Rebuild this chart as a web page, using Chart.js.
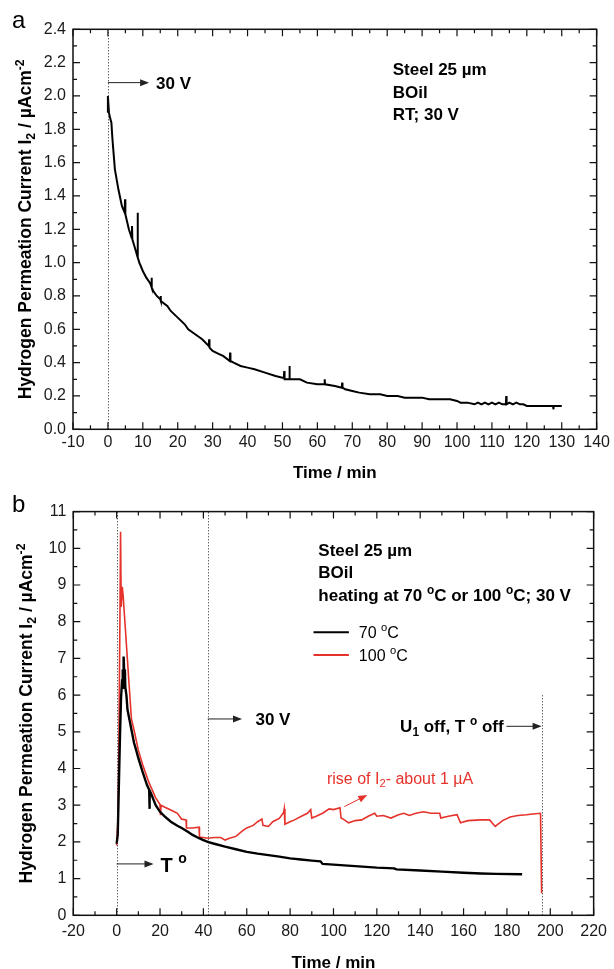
<!DOCTYPE html>
<html>
<head>
<meta charset="utf-8">
<script src="https://cdn.jsdelivr.net/npm/chart.js@4.4.1/dist/chart.umd.min.js"></script>
<style>
  html, body { margin: 0; padding: 0; background: #fff; }
  #wrap { position: relative; width: 614px; height: 969px; }
  canvas { position: absolute; left: 0; }
  #cA { top: 0; }
  #cB { top: 480px; }
</style>
</head>
<body>
<div id="wrap">
  <canvas id="cA" width="614" height="480"></canvas>
  <canvas id="cB" width="614" height="489"></canvas>
</div>
<script>
// panel a: time (min), current (uA/cm2), room temperature
const currentRT = [
  [0,1.9],[0,2.0],[0.3,1.9],[0.6,1.87],[1,1.84],[1.3,1.74],[2,1.56],[3,1.44],[4,1.34],[4.8,1.3],[4.9,1.38],[5.0,1.29],
  [6,1.2],[6.8,1.15],[6.9,1.22],[7.0,1.14],[8,1.07],[8.4,1.04],[8.5,1.3],[8.6,1.03],[9,1.0],[10,0.95],[11,0.91],
  [12,0.88],[12.4,0.86],[12.5,0.91],[12.6,0.85],[13,0.83],[14,0.8],[15,0.78],[15.1,0.8],[15.2,0.77],[17,0.74],
  [18,0.71],[20,0.67],[22,0.63],[23,0.6],[25,0.57],[27,0.54],[28.9,0.5],[29,0.54],[29.1,0.49],[30,0.47],[32,0.45],
  [33,0.44],[34.9,0.41],[35,0.46],[35.1,0.41],[36,0.4],[38,0.38],[40,0.37],[42,0.36],[45,0.34],[48,0.32],[50,0.31],
  [50.4,0.31],[50.5,0.35],[50.6,0.3],[51.9,0.3],[52,0.38],[52.1,0.3],[53,0.3],[55,0.3],[57,0.28],[60,0.27],[62,0.27],
  [62.1,0.3],[62.2,0.27],[65,0.26],[67,0.25],[67.1,0.28],[67.2,0.25],[68,0.24],[70,0.23],[72,0.22],[75,0.21],[78,0.21],
  [80,0.2],[83,0.2],[85,0.19],[88,0.19],[90,0.19],[92,0.18],[95,0.18],[98,0.18],[100,0.17],[101,0.16],[103,0.16],
  [105,0.15],[106,0.16],[107,0.15],[108,0.16],[109,0.15],[110,0.16],[111,0.15],[112,0.16],[113,0.15],[114,0.15],
  [114.1,0.2],[114.2,0.15],[115,0.16],[116,0.15],[117,0.16],[118,0.15],[119,0.15],[120,0.14],[125,0.14],[127.5,0.14],
  [127.6,0.12],[127.7,0.14],[130,0.14]
];

// panel b: heating at 70 C and 100 C
const current70 = [
  [0,1.95],[0.5,2.2],[1,3.5],[1.5,4.8],[2,5.9],[2.5,6.4],[2.8,6.7],[3,6.2],[3.2,7.05],[3.5,6.6],[3.8,6.7],
  [4,6.2],[4.5,6.0],[5,5.6],[6,5.3],[7,5.0],[8,4.7],[9,4.5],[10,4.28],[12,3.9],[14,3.55],[15,3.42],[15.1,2.9],
  [15.3,3.4],[16,3.3],[18,3.0],[20,2.82],[22,2.7],[25,2.55],[28,2.44],[30,2.38],[33,2.27],[35,2.19],[38,2.1],
  [40,2.05],[42,2.0],[45,1.95],[50,1.87],[55,1.8],[60,1.73],[65,1.68],[70,1.64],[75,1.6],[80,1.55],[85,1.52],
  [90,1.49],[94,1.47],[95,1.4],[100,1.38],[110,1.34],[120,1.3],[128,1.28],[129,1.25],[140,1.22],[150,1.19],
  [160,1.16],[168,1.14],[175,1.13],[187,1.12]
];
const current100 = [
  [0,1.9],[0.5,2.5],[1,4.5],[1.5,8.0],[1.8,10.45],[2.0,10.45],[2.1,8.4],[2.6,8.95],[3.0,8.7],[6.8,5.35],[8,5.05],
  [10,4.5],[12,4.1],[15,3.6],[18,3.2],[20,3.02],[20.2,2.73],[20.5,3.0],[22,2.95],[25,2.87],[28,2.78],[30,2.62],
  [32,2.6],[32.2,2.38],[35,2.38],[38,2.4],[38.2,2.13],[40,2.12],[42,2.1],[45,2.12],[48,2.12],[50,2.05],[52,2.1],
  [55,2.15],[58,2.3],[60,2.38],[63,2.45],[65,2.55],[67,2.62],[67.5,2.45],[70,2.42],[72,2.55],[75,2.64],[77,2.8],
  [77.3,2.9],[77.6,2.48],[80,2.55],[82,2.6],[85,2.69],[88,2.78],[89.5,2.88],[90,2.65],[92,2.7],[95,2.78],[98,2.9],
  [100,2.88],[103,2.93],[103.5,2.65],[105,2.6],[107,2.52],[110,2.58],[113,2.6],[116,2.7],[119,2.78],[120,2.7],
  [123,2.72],[126.5,2.65],[130,2.74],[132.5,2.78],[135,2.72],[138,2.78],[141.6,2.82],[145,2.78],[149,2.78],
  [149.5,2.65],[153,2.7],[157,2.74],[158.6,2.52],[162,2.58],[167.9,2.6],[172,2.6],[174.6,2.42],[178,2.58],
  [181.5,2.68],[185,2.72],[189,2.74],[192,2.76],[195.5,2.78],[196,0.6]
];

const seriesNames = ['70 \u00B0C', '100 \u00B0C'];
const xRangeA = [-10, 140, 10];
const yRangeA = [0, 2.4, 0.2];
const xRangeB = [-20, 220, 20];
const yRangeB = [0, 11, 1];

const FONT = "'Liberation Sans', Arial, Helvetica, sans-serif";
const RED = '#e5322b';

function drawRich(ctx, runs, x, y, size, weight, color, align) {
  const parts = runs.map(r => typeof r === 'string' ? { t: r, k: '' } : { t: r[0], k: r[1] });
  let w = 0;
  parts.forEach(p => {
    p.s = p.k ? size * 0.7 : size;
    ctx.font = `${weight} ${p.s}px ${FONT}`;
    p.w = ctx.measureText(p.t).width;
    w += p.w;
  });
  let cx = align === 'center' ? x - w / 2 : align === 'right' ? x - w : x;
  ctx.fillStyle = color;
  ctx.textAlign = 'left';
  ctx.textBaseline = 'alphabetic';
  parts.forEach(p => {
    ctx.font = `${weight} ${p.s}px ${FONT}`;
    const dy = p.k === 'sub' ? size * 0.22 : p.k === 'sup' ? -size * 0.42 : 0;
    ctx.fillText(p.t, cx, y + dy);
    cx += p.w;
  });
}

function arrow(ctx, x0, y0, x1, y1, color) {
  const a = Math.atan2(y1 - y0, x1 - x0), L = 9, H = 3.5;
  ctx.strokeStyle = color; ctx.fillStyle = color; ctx.lineWidth = 1;
  ctx.beginPath(); ctx.moveTo(x0, y0); ctx.lineTo(x1 - L * Math.cos(a) * 0.8, y1 - L * Math.sin(a) * 0.8); ctx.stroke();
  ctx.beginPath();
  ctx.moveTo(x1, y1);
  ctx.lineTo(x1 - L * Math.cos(a) + H * Math.sin(a), y1 - L * Math.sin(a) - H * Math.cos(a));
  ctx.lineTo(x1 - L * Math.cos(a) - H * Math.sin(a), y1 - L * Math.sin(a) + H * Math.cos(a));
  ctx.closePath(); ctx.fill();
}

const yTitle = ['Hydrogen Permeation Current I', ['2', 'sub'], ' / \u00B5Acm', ['-2', 'sup']];

function panelPlugin(cfg) {
  return {
    id: 'panel',
    afterDatasetsDraw(chart) {
      const { ctx, chartArea: ca, scales: { x, y } } = chart;
      ctx.save();
      // dotted event lines
      ctx.setLineDash([1, 2]); ctx.lineWidth = 1; ctx.strokeStyle = '#222';
      cfg.markers.forEach(m => {
        const px = Math.round(x.getPixelForValue(m[0])) + 0.5;
        ctx.beginPath(); ctx.moveTo(px, y.getPixelForValue(m[1])); ctx.lineTo(px, y.getPixelForValue(m[2])); ctx.stroke();
      });
      ctx.setLineDash([]);
      // frame with inward ticks on all sides
      ctx.strokeStyle = '#111'; ctx.lineWidth = 1.2;
      const xs = cfg.xr, ys = cfg.yr;
      for (let i = 0; i <= Math.round((xs[1] - xs[0]) / (xs[2] / 2)); i++) {
        const v = xs[0] + i * xs[2] / 2, L = i % 2 === 0 ? 7 : 4, px = x.getPixelForValue(v);
        ctx.beginPath(); ctx.moveTo(px, ca.bottom); ctx.lineTo(px, ca.bottom - L);
        ctx.moveTo(px, ca.top); ctx.lineTo(px, ca.top + L); ctx.stroke();
      }
      for (let i = 0; i <= Math.round((ys[1] - ys[0]) / (ys[2] / 2)); i++) {
        const v = ys[0] + i * ys[2] / 2, L = i % 2 === 0 ? 7 : 4, py = y.getPixelForValue(v);
        ctx.beginPath(); ctx.moveTo(ca.left, py); ctx.lineTo(ca.left + L, py);
        ctx.moveTo(ca.right, py); ctx.lineTo(ca.right - L, py); ctx.stroke();
      }
      ctx.lineWidth = 1.5;
      ctx.strokeRect(ca.left, ca.top, ca.right - ca.left, ca.bottom - ca.top);
      // arrows
      cfg.arrows.forEach(a => arrow(ctx, x.getPixelForValue(a[0]), y.getPixelForValue(a[1]),
        x.getPixelForValue(a[2]), y.getPixelForValue(a[3]), a[4] || '#222'));
      // annotation texts (y = text centre)
      cfg.texts.forEach(t => drawRich(ctx, t.runs, x.getPixelForValue(t.x), y.getPixelForValue(t.y) + t.size * 0.36,
        t.size, t.weight || 'bold', t.color || '#000', t.align || 'left'));
      // legend
      if (cfg.legend) {
        chart.data.datasets.forEach((ds, i) => {
          const lg = cfg.legend[i], py = y.getPixelForValue(lg.y);
          ctx.strokeStyle = ds.borderColor; ctx.lineWidth = 2;
          ctx.beginPath(); ctx.moveTo(x.getPixelForValue(lg.x0), py); ctx.lineTo(x.getPixelForValue(lg.x1), py); ctx.stroke();
          drawRich(ctx, lg.runs, x.getPixelForValue(lg.tx), py + 16 * 0.36, 16, 'normal', '#000', 'left');
        });
      }
      // axis titles
      drawRich(ctx, ['Time / min'], (ca.left + ca.right) / 2, cfg.xTitleY + 17 * 0.36, 17, 'bold', '#000', 'center');
      ctx.save();
      ctx.translate(cfg.yTitleX, (ca.top + ca.bottom) / 2);
      ctx.rotate(-Math.PI / 2);
      drawRich(ctx, yTitle, 0, 0, 17.5, 'bold', '#000', 'center');
      ctx.restore();
      // panel letter
      ctx.font = `24px ${FONT}`; ctx.fillStyle = '#000'; ctx.textAlign = 'left'; ctx.textBaseline = 'alphabetic';
      ctx.fillText(cfg.letter, 12, cfg.letterY);
      ctx.restore();
    }
  };
}

function makePanel(canvas, datasets, cfg) {
  return new Chart(canvas.getContext('2d'), {
    type: 'line',
    data: { datasets },
    options: {
      responsive: false,
      animation: false,
      devicePixelRatio: 1,
      layout: { padding: cfg.padding },
      plugins: { legend: { display: false }, tooltip: { enabled: false } },
      elements: { point: { radius: 0 }, line: { tension: 0 } },
      scales: {
        x: {
          type: 'linear', min: cfg.xr[0], max: cfg.xr[1],
          grid: { display: false, drawTicks: false }, border: { display: false },
          ticks: { stepSize: cfg.xr[2], padding: cfg.xPad, color: '#1a1a1a', font: { family: FONT, size: 16 },
                   maxRotation: 0, autoSkip: false, callback: v => String(v) },
          afterFit: s => { s.height = cfg.xHeight; }
        },
        y: {
          type: 'linear', min: cfg.yr[0], max: cfg.yr[1],
          grid: { display: false, drawTicks: false }, border: { display: false },
          ticks: { stepSize: cfg.yr[2], padding: 7, color: '#1a1a1a', font: { family: FONT, size: 16 },
                   autoSkip: false, callback: v => cfg.yDec ? Number(v).toFixed(cfg.yDec) : String(v) },
          afterFit: s => { s.width = cfg.yWidth; }
        }
      }
    },
    plugins: [panelPlugin(cfg)]
  });
}

makePanel(document.getElementById('cA'), [
  { label: 'RT', data: currentRT.map(p => ({ x: p[0], y: p[1] })), borderColor: '#000', borderWidth: 2 }
], {
  xr: xRangeA, yr: yRangeA, yDec: 1,
  padding: { top: 29.3, right: 17, left: 0, bottom: 0 },
  xHeight: 50.7, yWidth: 73, xPad: 4,
  markers: [[0, 0, 2.4]],
  arrows: [[0, 2.08, 11.8, 2.08]],
  texts: [
    { runs: ['30 V'], x: 13.8, y: 2.08, size: 17 },
    { runs: ['Steel 25 \u00B5m'], x: 81.6, y: 2.162, size: 17 },
    { runs: ['BOil'], x: 81.6, y: 2.024, size: 17 },
    { runs: ['RT; 30 V'], x: 81.6, y: 1.892, size: 17 }
  ],
  xTitleY: 472, yTitleX: 31, letter: 'a', letterY: 28
});

makePanel(document.getElementById('cB'), [
  { label: seriesNames[0], data: current70.map(p => ({ x: p[0], y: p[1] })), borderColor: '#000', borderWidth: 2.4 },
  { label: seriesNames[1], data: current100.map(p => ({ x: p[0], y: p[1] })), borderColor: RED, borderWidth: 1.6 }
], {
  xr: xRangeB, yr: yRangeB, yDec: 0,
  padding: { top: 31.6, right: 12.5, left: 0, bottom: 0 },
  xHeight: 53.7, yWidth: 73.3, xPad: 7,
  markers: [[0, 0, 11], [42, 0, 11], [196, 0, 6]],
  arrows: [[42, 5.35, 57.8, 5.35], [0, 1.4, 17, 1.4], [179.8, 5.15, 196, 5.15], [105, 2.96, 115.6, 3.28, RED]],
  texts: [
    { runs: ['Steel 25 \u00B5m'], x: 93, y: 9.97, size: 17 },
    { runs: ['BOil'], x: 93, y: 9.35, size: 17 },
    { runs: ['heating at 70 ', ['o', 'sup'], 'C or 100 ', ['o', 'sup'], 'C; 30 V'], x: 93, y: 8.72, size: 17 },
    { runs: ['30 V'], x: 64, y: 5.35, size: 17 },
    { runs: ['T ', ['o', 'sup']], x: 20.2, y: 1.38, size: 20 },
    { runs: ['U', ['1', 'sub'], ' off, T ', ['o', 'sup'], ' off'], x: 178.5, y: 5.15, size: 17, align: 'right' },
    { runs: ['rise of I', ['2', 'sub'], '- about 1 \u00B5A'], x: 97, y: 3.74, size: 16, weight: 'normal', color: RED }
  ],
  legend: [
    { x0: 90.8, x1: 107.1, tx: 111.7, y: 7.71, runs: ['70 ', ['o', 'sup'], 'C'] },
    { x0: 90.8, x1: 107.1, tx: 111.7, y: 7.09, runs: ['100 ', ['o', 'sup'], 'C'] }
  ],
  xTitleY: 482, yTitleX: 32, letter: 'b', letterY: 32
});
</script>
</body>
</html>
